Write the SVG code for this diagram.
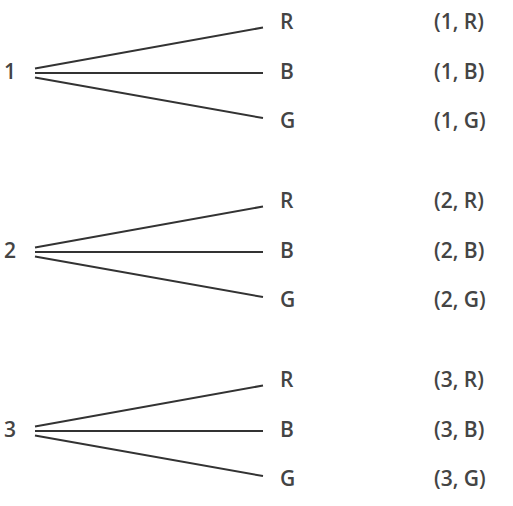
<svg xmlns="http://www.w3.org/2000/svg" width="513" height="506" viewBox="0 0 513 506">
<style>
.t{font-family:"Open Sans","Noto Sans",sans-serif;font-size:21px;font-weight:600;fill:#444}
.c line{stroke:#333;stroke-width:2}
</style>
<rect width="513" height="506" fill="#fff"/>
<g id="connectors" class="c">
<line x1="35" y1="68.5" x2="263" y2="27.5"/><line x1="35" y1="73" x2="263" y2="73"/><line x1="35" y1="77.5" x2="263" y2="118"/>
<line x1="35" y1="247.5" x2="263" y2="206.5"/><line x1="35" y1="252" x2="263" y2="252"/><line x1="35" y1="256.5" x2="263" y2="297"/>
<line x1="35" y1="426.5" x2="263" y2="385.5"/><line x1="35" y1="431" x2="263" y2="431"/><line x1="35" y1="435.5" x2="263" y2="476"/>
</g>
<g id="n1"><text class="t" x="4" y="79">1</text></g>
<g id="n1R"><text class="t" x="280" y="29">R</text></g>
<g id="n1B"><text class="t" x="280" y="79">B</text></g>
<g id="n1G"><text class="t" x="280" y="128">G</text></g>
<g id="o1R"><text class="t" x="434" y="29">(1, R)</text></g>
<g id="o1B"><text class="t" x="434" y="79">(1, B)</text></g>
<g id="o1G"><text class="t" x="434" y="128">(1, G)</text></g>
<g id="n2"><text class="t" x="4" y="258">2</text></g>
<g id="n2R"><text class="t" x="280" y="208">R</text></g>
<g id="n2B"><text class="t" x="280" y="258">B</text></g>
<g id="n2G"><text class="t" x="280" y="307">G</text></g>
<g id="o2R"><text class="t" x="434" y="208">(2, R)</text></g>
<g id="o2B"><text class="t" x="434" y="258">(2, B)</text></g>
<g id="o2G"><text class="t" x="434" y="307">(2, G)</text></g>
<g id="n3"><text class="t" x="4" y="437">3</text></g>
<g id="n3R"><text class="t" x="280" y="387">R</text></g>
<g id="n3B"><text class="t" x="280" y="437">B</text></g>
<g id="n3G"><text class="t" x="280" y="486">G</text></g>
<g id="o3R"><text class="t" x="434" y="387">(3, R)</text></g>
<g id="o3B"><text class="t" x="434" y="437">(3, B)</text></g>
<g id="o3G"><text class="t" x="434" y="486">(3, G)</text></g>
</svg>
